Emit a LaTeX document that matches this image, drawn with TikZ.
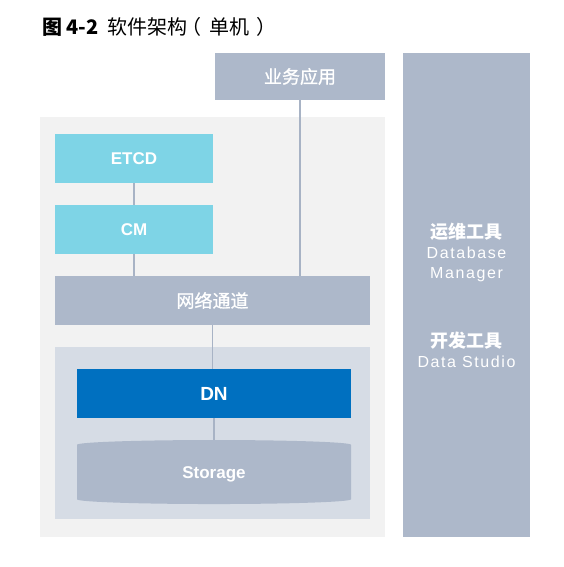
\documentclass[tikz,border=0pt]{standalone}
\usepackage{fontspec}
\setmainfont{Liberation Sans}
\newfontfamily\cjk{Noto Sans CJK SC}
\newfontfamily\cjkmid[FakeBold=1]{Noto Sans CJK SC}
\newfontfamily\widesans[LetterSpace=10]{Liberation Sans}
\usetikzlibrary{positioning,shapes.geometric}
\definecolor{slate}{HTML}{ADB8CA}
\definecolor{panel}{HTML}{F2F2F2}
\definecolor{inner}{HTML}{D6DCE5}
\definecolor{cyanbox}{HTML}{7ED4E6}
\definecolor{dnblue}{HTML}{0070C0}
\definecolor{wire}{HTML}{A8B3C5}

\begin{document}
\begin{tikzpicture}[
  x=1pt, y=-1pt,
  area/.style={rectangle, inner sep=0pt},
  block/.style={rectangle, inner sep=0pt, minimum height=49pt, text=white,
                font=\fontsize{17}{20}\selectfont\bfseries},
  cnblock/.style={block, font=\fontsize{18}{20}\selectfont\cjkmid},
  link/.style={draw=wire, line width=1.1pt},
  toollabel/.style={align=center, text=white, inner sep=0pt,
                    font=\fontsize{16}{20}\selectfont\widesans},
]
\useasboundingbox (0,0) rectangle (564,567);

% title
\node[anchor=base west, inner sep=0pt] (title) at (42,35)
  {\fontsize{20}{22}\selectfont\cjk\textbf{图 4-2}\kern4pt{} 软件架构\kern-6pt（\kern8pt单机\kern7pt）};

% panels
\node[area, fill=slate, minimum width=127pt, minimum height=484pt] (tools) at (466.5,295) {};
\node[area, fill=panel, minimum width=345pt, minimum height=420pt] (host) at (212.5,327) {};
\node[area, fill=inner, minimum width=315pt, minimum height=172pt] (node) at (212.5,433) {};

% blocks
\node[cnblock, fill=slate, minimum width=170pt, minimum height=47pt] (app) at (300,76.5) {业务应用};
\node[block, fill=cyanbox, minimum width=158pt] (etcd) at (134,158.5) {ETCD};
\node[block, fill=cyanbox, minimum width=158pt] (cm) at (134,229.5) {CM};
\node[cnblock, fill=slate, minimum width=315pt] (net) at (212.5,300.5) {网络通道};
\node[block, fill=dnblue, minimum width=274pt, font=\fontsize{19}{20}\selectfont\bfseries] (dn) at (214,393.5) {DN};
\node[cylinder, shape border rotate=90, aspect=0.15, fill=slate, inner sep=0pt,
      minimum width=274pt, minimum height=64pt, text=white,
      font=\fontsize{17}{20}\selectfont\bfseries] (storage) at (214,474.5) {Storage};

% tools column
\node[toollabel] (ops) at (466.5,252)
  {{\fontsize{18}{20}\selectfont\cjk\bfseries 运维工具}\\ Database\\ Manager};
\node[toollabel] (dev) at (466.5,350)
  {{\fontsize{18}{20}\selectfont\cjk\bfseries 开发工具}\\ Data Studio};

% links
\draw[link] (app.south) -- (app.south |- net.north);
\draw[link] (etcd) -- (cm);
\draw[link] (cm.south) -- (cm.south |- net.north);
\draw[link] (net.south) -- (net.south |- dn.north);
\draw[link] (dn.south) -- (dn.south |- storage.north);

\end{tikzpicture}
\end{document}
